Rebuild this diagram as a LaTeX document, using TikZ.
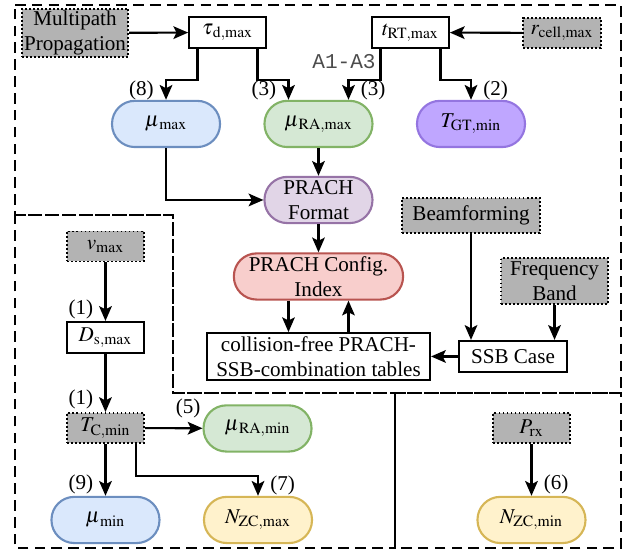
\documentclass[tikz,border=0pt]{standalone}
\usepackage{mathptmx}
\usepackage{fontspec}
\setmainfont{Liberation Serif}
\setmonofont{Liberation Mono}
\usetikzlibrary{arrows.meta}
\definecolor{blueF}{HTML}{DAE8FC}
\definecolor{blueD}{HTML}{6C8EBF}
\definecolor{greenF}{HTML}{D5E8D4}
\definecolor{greenD}{HTML}{82B366}
\definecolor{lilaF}{HTML}{E1D5E7}
\definecolor{lilaD}{HTML}{9673A6}
\definecolor{violetF}{HTML}{BFA6FF}
\definecolor{violetD}{HTML}{9475E0}
\definecolor{redF}{HTML}{F8CECC}
\definecolor{redD}{HTML}{B85450}
\definecolor{yellowF}{HTML}{FFF2CC}
\definecolor{yellowD}{HTML}{D6B656}
\definecolor{grayF}{HTML}{B3B3B3}
\newcommand{\gsub}[2]{#1_{\mkern2mu\mathrm{#2}}}
\begin{document}
\begin{tikzpicture}[>={Stealth[length=7pt,width=6pt,inset=1.5pt]},
    param/.style={draw, rounded corners=3.8mm, line width=1pt, minimum width=1.8cm,
        minimum height=0.77cm, inner sep=1pt, align=center},
    plain/.style={draw, line width=0.9pt, fill=white, minimum width=1.28cm, minimum height=0.52cm,
        inner sep=1pt, align=center},
    given/.style={draw, line width=0.9pt, densely dotted, fill=grayF, minimum width=1.28cm,
        minimum height=0.5cm, inner sep=1pt, align=center},
    region/.style={line width=1pt, dash pattern=on 5pt off 3pt}]
    \useasboundingbox (0,0) rectangle (10.6,9.233);
    \draw[region] (0.25,9.15) -- (10.35,9.15) -- (10.35,2.683) -- (2.883,2.683)
        -- (2.883,5.65) -- (0.25,5.65) -- cycle;
    \draw[region] (0.25,5.65) -- (2.883,5.65) -- (2.883,2.683) -- (6.583,2.683)
        -- (6.583,0.1) -- (0.25,0.1) -- cycle;
    \draw[region] (6.583,2.683) -- (10.35,2.683) -- (10.35,0.1) -- (6.583,0.1) -- cycle;

    \node[given, minimum width=1.77cm, minimum height=0.77cm] (mp) at (1.25,8.683) {Multipath\\Propagation};
    \node[plain] (taud) at (3.792,8.692) {$\gsub{\tau}{d,max}$};
    \node[plain] (trt) at (6.842,8.692) {$t_\mathrm{RT,max}$};
    \node[given, minimum width=1.3cm] (rcell) at (9.367,8.683) {$r_\mathrm{cell,max}$};
    \node[text=black!70, font=\ttfamily] (refs) at (5.733,8.2) {A1-A3};
    \node[param, fill=blueF, draw=blueD] (mumax) at (2.767,7.167) {$\gsub{\mu}{max}$};
    \node[param, fill=greenF, draw=greenD] (muramax) at (5.308,7.167) {$\gsub{\mu}{RA,max}$};
    \node[param, fill=violetF, draw=violetD] (tgt) at (7.85,7.167) {$T_\mathrm{GT,min}$};
    \node[param, fill=lilaF, draw=lilaD] (fmt) at (5.308,5.9) {PRACH\\Format};
    \node[param, fill=redF, draw=redD, minimum width=2.82cm] (cfg) at (5.308,4.625) {PRACH Config.\\Index};
    \node[plain, minimum width=3.72cm, minimum height=0.78cm] (coll) at (5.308,3.292)
        {collision-free PRACH-\\SSB-combination tables};
    \node[given, minimum width=2.3cm, minimum height=0.58cm] (beam) at (7.85,5.642) {Beamforming};
    \node[given, minimum width=1.78cm, minimum height=0.77cm] (freq) at (9.242,4.55) {Frequency\\Band};
    \node[plain, minimum width=1.8cm] (ssb) at (8.55,3.292) {SSB Case};
    \node[given] (vmax) at (1.758,5.125) {$v_\mathrm{max}$};
    \node[plain] (dsmax) at (1.758,3.608) {$D_\mathrm{s,max}$};
    \node[given] (tcmin) at (1.758,2.1) {$T_\mathrm{C,min}$};
    \node[param, fill=greenF, draw=greenD] (muramin) at (4.292,2.092) {$\gsub{\mu}{RA,min}$};
    \node[param, fill=blueF, draw=blueD] (mumin) at (1.758,0.567) {$\gsub{\mu}{min}$};
    \node[param, fill=yellowF, draw=yellowD] (nzcmax) at (4.3,0.567) {$N_\mathrm{ZC,max}$};
    \node[given] (prx) at (8.858,2.1) {$P_\mathrm{rx}$};
    \node[param, fill=yellowF, draw=yellowD] (nzcmin) at (8.858,0.567) {$N_\mathrm{ZC,min}$};

    \begin{scope}[->, line width=1pt]
        \draw (mp) -- (taud);
        \draw (rcell) -- (trt);
        \draw ([xshift=-5mm]taud.south) -- ++(0,-0.52) -| node[pos=0.75, left=2pt] {(8)} (mumax);
        \draw ([xshift=5mm]taud.south) -- ++(0,-0.52) -| node[pos=0.75, left=2pt] {(3)}
            ([xshift=-5mm]muramax.north);
        \draw ([xshift=-5mm]trt.south) -- ++(0,-0.52) -| node[pos=0.75, right=2pt] {(3)}
            ([xshift=5mm]muramax.north);
        \draw ([xshift=5mm]trt.south) -- ++(0,-0.52) -| node[pos=0.75, right=2pt] {(2)} (tgt);
        \draw (mumax) |- (fmt);
        \draw (muramax) -- (fmt);
        \draw (fmt) -- (cfg);
        \draw ([xshift=-5mm]cfg.south) -- ([xshift=-5mm]coll.north);
        \draw ([xshift=5mm]coll.north) -- ([xshift=5mm]cfg.south);
        \draw (beam) -- (beam |- ssb.north);
        \draw (freq) -- (freq |- ssb.north);
        \draw (ssb) -- (coll);
        \draw (vmax) -- node[pos=0.8, left=2pt] {(1)} (dsmax);
        \draw (dsmax) -- node[pos=0.78, left=2pt] {(1)} (tcmin);
        \draw (tcmin) -- node[pos=0.75, above=1pt] {(5)} (muramin);
        \draw (tcmin) -- node[pos=0.78, left=2pt] {(9)} (mumin);
        \draw ([xshift=5.1mm]tcmin.south) -- ++(0,-0.53) -| node[pos=0.75, right=2pt] {(7)} (nzcmax);
        \draw (prx) -- node[pos=0.78, right=2pt] {(6)} (nzcmin);
    \end{scope}
\end{tikzpicture}
\end{document}
